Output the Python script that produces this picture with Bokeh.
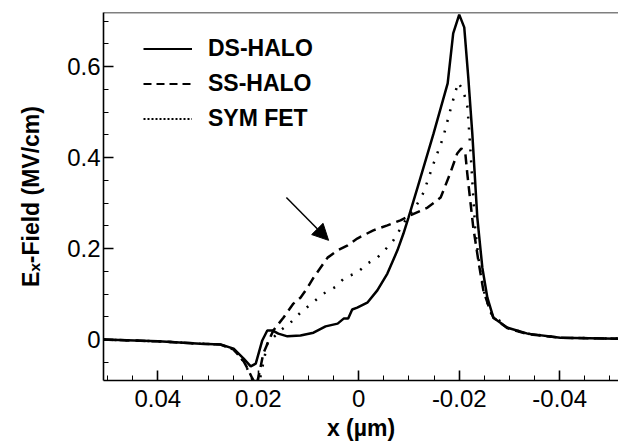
from bokeh.plotting import figure
from bokeh.models import (Range1d, SingleIntervalTicker, CustomJSTickFormatter, Legend,
                          LegendItem, Arrow, NormalHead, Span)
from bokeh.embed import file_html
from bokeh.resources import INLINE

# ---- data (x in um, field in MV/cm) ----
ds_x = [0.0508, 0.0399, 0.0315, 0.0275, 0.0249, 0.0229, 0.0215, 0.0205, 0.0192, 0.0182,
        0.0172, 0.0160, 0.0142, 0.0116, 0.0090, 0.0066, 0.0042, 0.0030, 0.0021, 0.0013,
        0.0003, -0.0017, -0.0037, -0.0057, -0.0077, -0.0089, -0.0099, -0.0117, -0.0149,
        -0.0177, -0.0188, -0.0200, -0.0210, -0.0218, -0.0226, -0.0236, -0.0246, -0.0256,
        -0.0268, -0.0296, -0.0336, -0.0401, -0.0517]
ds_y = [0.0, -0.004, -0.009, -0.011, -0.020, -0.042, -0.059, -0.053, -0.002, 0.020,
        0.020, 0.013, 0.007, 0.009, 0.015, 0.029, 0.035, 0.046, 0.046, 0.066,
        0.070, 0.081, 0.108, 0.145, 0.196, 0.233, 0.268, 0.334, 0.453,
        0.563, 0.673, 0.714, 0.686, 0.576, 0.453, 0.268, 0.158, 0.092,
        0.048, 0.026, 0.013, 0.004, 0.002]

ss_x = [0.0508, 0.0399, 0.0315, 0.0275, 0.0249, 0.0229, 0.0221, 0.0212, 0.0204, 0.0199,
        0.0190, 0.0180, 0.0170, 0.0150, 0.0130, 0.0116, 0.0102, 0.0090, 0.0062, 0.0042,
        0.0022, 0.0003, -0.0029, -0.0057, -0.0083, -0.0103, -0.0137, -0.0163, -0.0182,
        -0.0196, -0.0204, -0.0212, -0.0216, -0.0222, -0.0228, -0.0238, -0.0248, -0.0258,
        -0.0268, -0.0296, -0.0336, -0.0401, -0.0517]
ss_y = [0.0, -0.004, -0.009, -0.011, -0.022, -0.048, -0.064, -0.085, -0.100, -0.080,
        -0.031, -0.005, 0.020, 0.048, 0.079, 0.092, 0.114, 0.136, 0.180, 0.196,
        0.207, 0.222, 0.240, 0.251, 0.262, 0.273, 0.290, 0.312, 0.365,
        0.409, 0.420, 0.411, 0.365, 0.305, 0.246, 0.174, 0.108, 0.075,
        0.048, 0.025, 0.012, 0.004, 0.002]

sym_x = [0.0508, 0.0399, 0.0315, 0.0275, 0.0249, 0.0229, 0.0215, 0.0205, 0.0199, 0.0182,
         0.0156, 0.0136, 0.0116, 0.0092, 0.0070, 0.0046, 0.0028, 0.0003, -0.0017, -0.0037,
         -0.0053, -0.0069, -0.0093, -0.0117, -0.0129, -0.0149, -0.0168, -0.0182, -0.0192,
         -0.0198, -0.0208, -0.0216, -0.0218, -0.0222, -0.0226, -0.0232, -0.0240, -0.0250,
         -0.0262, -0.0296, -0.0336, -0.0401, -0.0517]
sym_y = [0.0, -0.004, -0.009, -0.011, -0.022, -0.048, -0.080, -0.105, -0.100, -0.009,
         0.020, 0.037, 0.059, 0.081, 0.101, 0.116, 0.136, 0.147, 0.167, 0.180,
         0.198, 0.218, 0.262, 0.299, 0.323, 0.387, 0.444, 0.503, 0.543,
         0.565, 0.547, 0.514, 0.486, 0.422, 0.349, 0.240, 0.163, 0.103,
         0.059, 0.026, 0.013, 0.004, 0.002]

series_names = ["DS-HALO", "SS-HALO", "SYM FET"]
x_label = "x (µm)"
y_label = "Eₓ-Field (MV/cm)"

# arrow annotation (data coordinates)
arrow_start = (0.0144, 0.312)
arrow_end = (0.0060, 0.218)

X_START, X_END = 0.0508, -0.0517
Y_START, Y_END = -0.090, 0.7187

FONT = "Liberation Sans"
NAN = float("nan")

p = figure(width=618, height=443, output_backend="svg", toolbar_location=None,
           x_range=Range1d(X_START, X_END), y_range=Range1d(Y_START, Y_END),
           min_border_left=103, min_border_right=0, min_border_top=12, min_border_bottom=63)
p.grid.visible = False
p.outline_line_color = None
p.background_fill_color = "white"
p.border_fill_color = "white"

fmt = CustomJSTickFormatter(code="return String(parseFloat(tick.toFixed(3)));")

for ax, interval in ((p.xaxis[0], 0.02), (p.yaxis[0], 0.2)):
    ax.ticker = SingleIntervalTicker(interval=interval, num_minor_ticks=4)
    ax.formatter = fmt
    ax.axis_line_color = "black"
    ax.axis_line_width = 1.6
    ax.major_tick_in = 10
    ax.major_tick_out = 0
    ax.minor_tick_in = 5
    ax.minor_tick_out = 0
    ax.major_tick_line_width = 1.6
    ax.minor_tick_line_width = 1
    ax.major_tick_line_color = "black"
    ax.minor_tick_line_color = "black"
    ax.major_label_text_font = FONT
    ax.major_label_text_font_size = "24px"
    ax.major_label_text_color = "black"
    ax.axis_label_text_font = FONT
    ax.axis_label_text_font_size = "23px"
    ax.axis_label_text_font_style = "bold"
    ax.axis_label_text_color = "black"

p.xaxis.axis_label = x_label
p.xaxis.major_label_standoff = 9
p.xaxis.axis_label_standoff = 5
p.yaxis.axis_label = y_label
p.yaxis.major_label_standoff = 3
p.yaxis.axis_label_standoff = 20

# top frame line
p.add_layout(Span(location=Y_END, dimension="width", line_color="black", line_width=1.6))

# curves
p.line(ds_x, ds_y, line_color="black", line_width=2.5)
p.line(ss_x, ss_y, line_color="black", line_width=2.5, line_dash="10 6")
p.line(sym_x, sym_y, line_color="black", line_width=2.5, line_dash="2 9")

# legend-only renderers (no visible data)
leg_ds = p.line([NAN], [NAN], line_color="black", line_width=1.8)
leg_ss = p.line([NAN], [NAN], line_color="black", line_width=1.8, line_dash="8 5")
leg_sym = p.line([NAN], [NAN], line_color="black", line_width=1.8, line_dash="2 2")

legend = Legend(items=[LegendItem(label=series_names[0], renderers=[leg_ds]),
                       LegendItem(label=series_names[1], renderers=[leg_ss]),
                       LegendItem(label=series_names[2], renderers=[leg_sym])],
                location=(40, 244), padding=0, margin=0, spacing=0,
                glyph_width=49, glyph_height=35, label_height=35, label_standoff=16,
                border_line_color=None, background_fill_alpha=0,
                label_text_font=FONT, label_text_font_size="23px",
                label_text_font_style="bold", label_text_color="black")
p.add_layout(legend, "center")

p.add_layout(Arrow(end=NormalHead(size=16, fill_color="black", line_color="black"),
                   x_start=arrow_start[0], y_start=arrow_start[1],
                   x_end=arrow_end[0], y_end=arrow_end[1],
                   line_color="black", line_width=1.5))

open("out.html", "w").write(file_html(p, INLINE))
